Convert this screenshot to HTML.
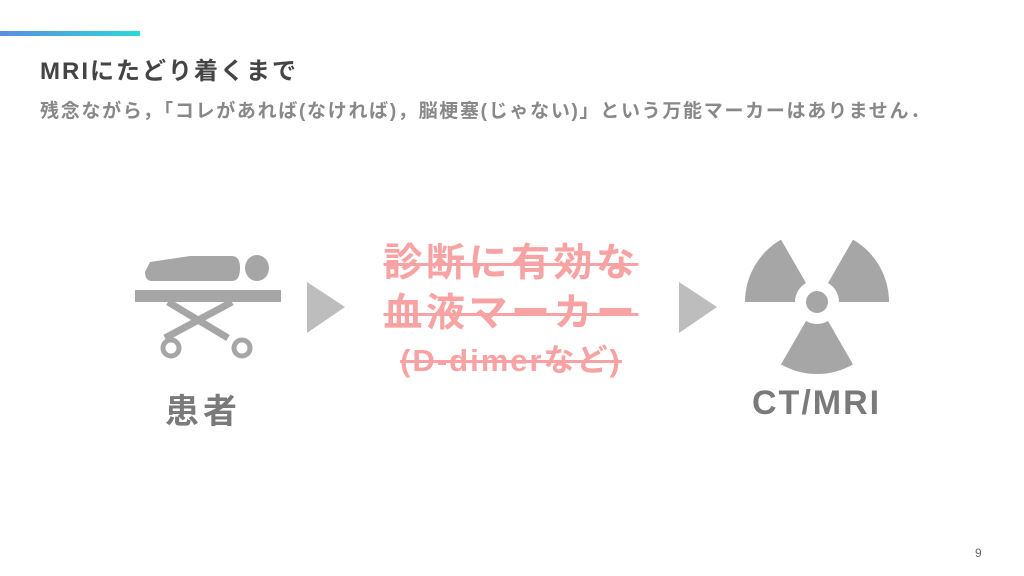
<!DOCTYPE html>
<html><head><meta charset="utf-8"><style>
body{margin:0;width:1024px;height:576px;background:#fff;position:relative;overflow:hidden;font-family:"Liberation Sans","Noto Sans CJK JP",sans-serif}
.bar{position:absolute;left:0;top:31px;width:140px;height:5px;background:linear-gradient(90deg,#5b8ee0,#2ad8d8)}
.t{position:absolute;left:40px;top:51px;font-size:24px;font-weight:bold;color:#444;letter-spacing:2px}
.s{position:absolute;left:40px;top:96px;font-size:19px;font-weight:bold;color:#888;white-space:nowrap;letter-spacing:1.7px}
.r{position:absolute;left:311px;width:400px;text-align:center;color:#f8a3a3;font-weight:bold;text-decoration:line-through;white-space:nowrap}
.g{position:absolute;color:#7a7a7a;font-weight:bold}
.pn{position:absolute;left:975px;top:546px;font-size:12px;color:#666}
</style></head><body>
<div class="bar"></div>
<div class="t">MRIにたどり着くまで</div>
<div class="s">残念ながら，「コレがあれば(なければ)，脳梗塞(じゃない)」という万能マーカーはありません．</div>
<svg width="1024" height="576" style="position:absolute;left:0;top:0">
<g fill="#a6a6a6">
<path d="M150 262 L190 256 L232 256 Q240 256 240 268 Q240 281 232 281 L152 281 Q145 281 145 272 Z"/>
<ellipse cx="257" cy="268" rx="12" ry="13"/>
<rect x="135" y="290" width="146" height="12"/>
</g>
<g stroke="#a6a6a6" stroke-width="7" fill="none">
<line x1="168" y1="302" x2="228" y2="338"/>
<line x1="232" y1="302" x2="165" y2="338"/>
<circle cx="171" cy="348" r="8" stroke-width="5"/>
<circle cx="242" cy="348" r="8" stroke-width="5"/>
</g>
<polygon points="307,282 345,307 307,333" fill="#bdbdbd"/>
<polygon points="679,282 717,307 679,333" fill="#bdbdbd"/>
<g fill="#a6a6a6" transform="translate(817,302)">
<circle r="11"/>
<path d="M-22 0 L-72 0 A72 72 0 0 1 -36 -62.4 L-11 -19 A22 22 0 0 0 -22 0Z"/>
<path d="M22 0 L72 0 A72 72 0 0 0 36 -62.4 L11 -19 A22 22 0 0 1 22 0Z"/>
<path d="M-11 19 L-36 62.4 A72 72 0 0 0 36 62.4 L11 19 A22 22 0 0 1 -11 19Z"/>
</g>
</svg>
<div class="r" style="top:232px;font-size:39px;letter-spacing:3.5px">診断に有効な</div>
<div class="r" style="top:282px;font-size:39px;letter-spacing:3.5px">血液マーカー</div>
<div class="r" style="top:335px;font-size:31px;letter-spacing:2px">(D-dimerなど)</div>
<div class="g" style="left:165px;top:384px;font-size:34px;letter-spacing:4px">患者</div>
<div class="g" style="left:752px;top:384px;font-size:34px;letter-spacing:2px">CT/MRI</div>
<div class="pn">9</div>
</body></html>
